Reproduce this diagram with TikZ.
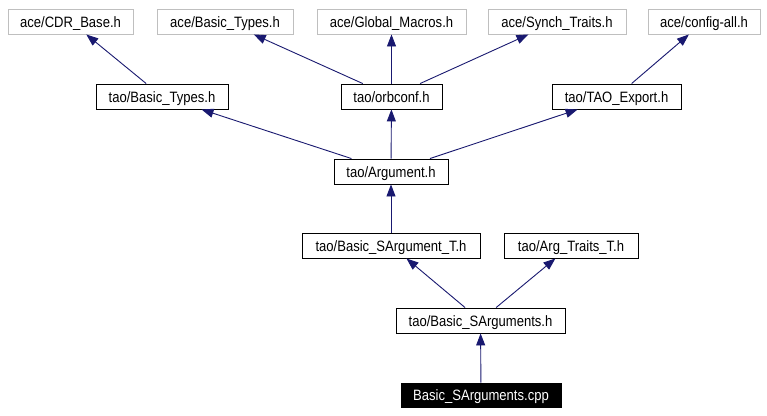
\documentclass[tikz,border=0pt]{standalone}
\usepackage{fontspec}
\setmainfont{Liberation Sans}
\newfontfamily\dotfont[FakeStretch=0.87]{Liberation Sans}
\usetikzlibrary{arrows.meta}
\definecolor{edgeblue}{HTML}{191970}
\definecolor{boxgray}{HTML}{BFBFBF}
\begin{document}
\begin{tikzpicture}[x=1pt,y=-1pt,
  base/.style={draw, rectangle, inner sep=0pt, minimum height=25pt, text height=11.4pt, text depth=0pt, font=\dotfont\fontsize{15}{17}\selectfont, line width=0.9pt},
  extbox/.style={base, draw=boxgray},
  taobox/.style={base, draw=black},
  mainbox/.style={base, draw=black, fill=black, text=white, minimum height=24pt},
  edge/.style={draw=edgeblue, line width=0.9pt, -{Triangle[length=12pt,width=9pt]}}
]
\useasboundingbox (0,0) rectangle (767,415);
\fill[white] (0,0) rectangle (767,415);
% top row
\node[extbox, minimum width=125pt] (cdr) at (70.5,21.5) {ace/CDR\_Base.h};
\node[extbox, minimum width=136pt] (abt) at (225,21.5) {ace/Basic\_Types.h};
\node[extbox, minimum width=149pt] (gm) at (391.5,21.5) {ace/Global\_Macros.h};
\node[extbox, minimum width=138pt] (st) at (557,21.5) {ace/Synch\_Traits.h};
\node[extbox, minimum width=112pt] (ca) at (704,21.5) {ace/config-all.h};
% second row
\node[taobox, minimum width=132pt] (tbt) at (162,96.5) {tao/Basic\_Types.h};
\node[taobox, minimum width=101pt] (orb) at (391.5,96.5) {tao/orbconf.h};
\node[taobox, minimum width=129pt] (tex) at (616.5,96.5) {tao/TAO\_Export.h};
% third row
\node[taobox, minimum width=114pt] (arg) at (391,171.5) {tao/Argument.h};
% fourth row
\node[taobox, minimum width=178pt] (bsat) at (391,245.5) {tao/Basic\_SArgument\_T.h};
\node[taobox, minimum width=134pt] (att) at (571,245.5) {tao/Arg\_Traits\_T.h};
% fifth row
\node[taobox, minimum width=169pt] (bsa) at (480.5,320.5) {tao/Basic\_SArguments.h};
% bottom
\node[mainbox, minimum width=160pt] (cpp) at (481,395) {Basic\_SArguments.cpp};
% edges
\draw[edge] (tbt) -- (cdr);
\draw[edge] (orb) -- (abt);
\draw[edge] (orb) -- (gm);
\draw[edge] (orb) -- (st);
\draw[edge] (tex) -- (ca);
\draw[edge] (arg) -- (tbt);
\draw[edge] (arg) -- (orb);
\draw[edge] (arg) -- (tex);
\draw[edge] (bsat) -- (arg);
\draw[edge] (bsa) -- (bsat);
\draw[edge] (bsa) -- (att);
\draw[edge] (cpp) -- (bsa);
\end{tikzpicture}
\end{document}
